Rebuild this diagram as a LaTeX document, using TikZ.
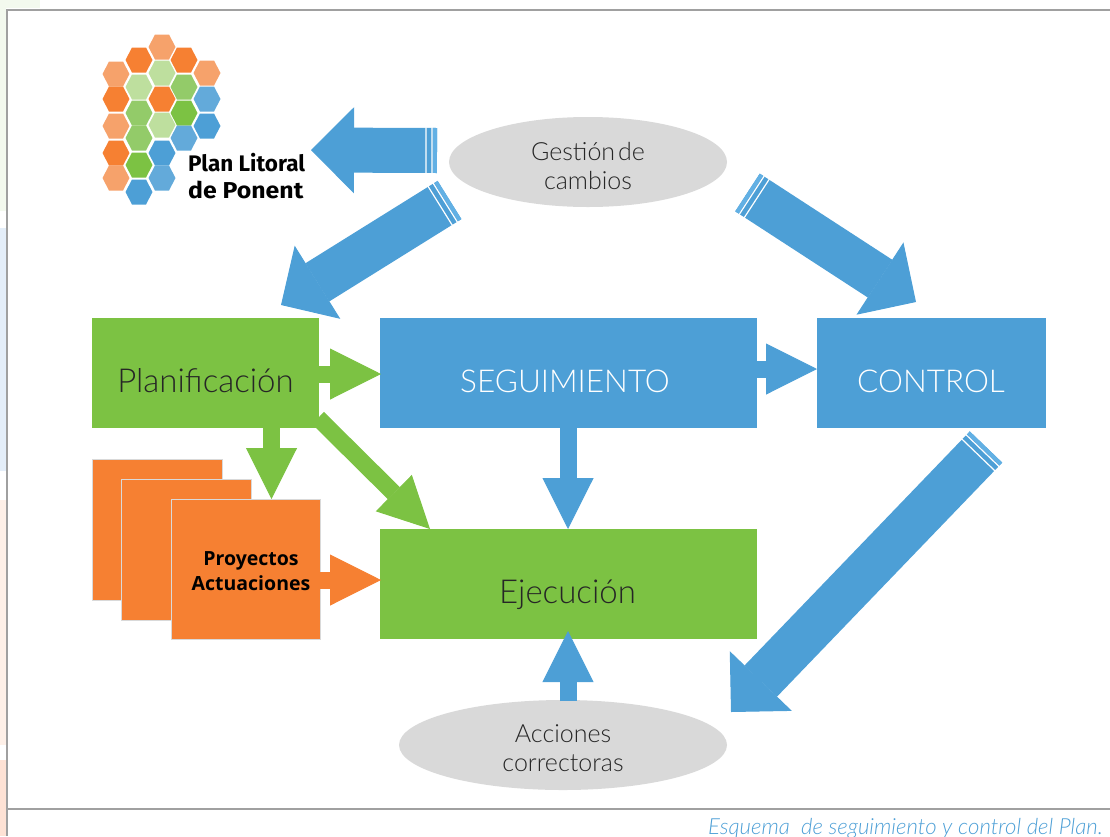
\documentclass[tikz,border=0pt]{standalone}
\usepackage{fontspec}
\setmainfont{Lato}[UprightFont=* Light,ItalicFont=* Light Italic,BoldFont=* Bold]
\newfontfamily\logofont{Fira Sans}
\newfontfamily\semifont{Open Sans}
\usetikzlibrary{arrows.meta,calc,shapes.geometric}
\definecolor{cblue}{HTML}{4D9FD6}
\definecolor{cbluel}{HTML}{62B0E4}
\definecolor{cgreen}{HTML}{7CC243}
\definecolor{corange}{HTML}{F68032}
\definecolor{cgray}{HTML}{D9D9D9}
\definecolor{cframe}{HTML}{A0A0A0}
\definecolor{hlo}{HTML}{F6A26B}
\definecolor{hlg}{HTML}{BEDF9E}
\definecolor{hmg}{HTML}{93CB69}
\definecolor{hlb}{HTML}{63AADA}
\definecolor{tintg}{HTML}{F3F9EE}
\definecolor{tintb}{HTML}{E4EEF9}
\definecolor{tinto}{HTML}{FEF0E8}
\definecolor{tintp}{HTML}{FEE2D5}
\tikzset{
  boxa/.style={rectangle,inner sep=0pt,minimum width=#1,minimum height=110pt},
  darktext/.style={text=black!85,font=\fontsize{33}{38}\selectfont,inner sep=0pt},
  lighttext/.style={text=white,font=\fontsize{31.5}{36}\selectfont,inner sep=0pt},
  ovalnode/.style={ellipse,fill=cgray,inner sep=0pt},
  ovaltext/.style={align=center,inner sep=0pt,font=\fontsize{25}{28.5}\selectfont,text=black!85},
  sheet/.style={rectangle,draw=black!15,line width=1pt,fill=corange,inner sep=0pt},
  sheettext/.style={align=center,inner sep=0pt,font=\semifont\bfseries\fontsize{19.5}{25}\selectfont,text=black},
  thick arrow/.style={draw=#1,line width=45pt,-{Triangle[length=43pt,width=86pt,line width=1pt,fill=#1]}},
  thin arrow/.style={draw=#1,line width=17pt,-{Triangle[length=51pt,width=51pt,line width=1pt,fill=#1]}},
  cutline/.style={draw=white,line width=1.2pt},
  framerule/.style={draw=cframe,line width=2pt}
}
\newcommand{\hx}[3]{\fill[#3] (#1-13.5,#2) -- (#1-7,#2-12.5) -- (#1+7,#2-12.5) -- (#1+13.5,#2) -- (#1+7,#2+12.5) -- (#1-7,#2+12.5) -- cycle;}
% white cuts and light band across the tail of a thick arrow
\newcommand{\tailcuts}[2]{%
  \fill[cbluel] ($(#1)!22.5pt!90:(#2)$) -- ($(#1)!22.5pt!-90:(#2)$) --
    ($($(#1)!4pt!(#2)$)!22.5pt!-90:(#2)$) -- ($($(#1)!4pt!(#2)$)!22.5pt!90:(#2)$) -- cycle;
  \draw[cutline] ($($(#1)!5pt!(#2)$)!23pt!90:(#2)$) -- ($($(#1)!5pt!(#2)$)!23pt!-90:(#2)$);
  \draw[cutline] ($($(#1)!11pt!(#2)$)!23pt!90:(#2)$) -- ($($(#1)!11pt!(#2)$)!23pt!-90:(#2)$);
}
\begin{document}
\begin{tikzpicture}[x=1pt,y=-1pt]
\useasboundingbox (0,0) rectangle (1110,836);
\clip (0,0) rectangle (1110,836);
% page tints on the left
\fill[tintg] (0,0) rectangle (6,211);
\fill[tintg] (0,0) rectangle (40,8);
\fill[tintb] (0,228) rectangle (6,471);
\fill[tinto] (0,500) rectangle (6,745);
\fill[tintp] (0,760) rectangle (6,836);
% frame
\draw[framerule] (7,836) -- (7,9.5) -- (1110,9.5);
\draw[framerule] (7,808.5) -- (1110,808.5);

% logo
\foreach \y/\c in {74/hlo,99/corange,126/hlo,153/corange,178/hlo}{\hx{116}{\y}{\c}}
\foreach \y/\c in {60/corange,87/hlg,113/hmg,138/hmg,165/cgreen,192/cblue}{\hx{139}{\y}{\c}}
\foreach \y/\c in {47/hlo,73/hlg,99/corange,125/hlg,153/cblue,178/hlb}{\hx{162}{\y}{\c}}
\foreach \y/\c in {60/corange,87/hmg,113/cgreen,138/hlb}{\hx{184}{\y}{\c}}
\foreach \y/\c in {73/hlo,99/hlb,126/cblue}{\hx{207}{\y}{\c}}
\node[inner sep=0pt,anchor=west,font=\logofont\bfseries\fontsize{22.5}{27}\selectfont] (logo1) at (188,163) {Plan Litoral};
\node[inner sep=0pt,anchor=west,font=\logofont\bfseries\fontsize{23}{27}\selectfont] (logo2) at (188,190) {\scalebox{1.08}[1]{de Ponent}};
\coordinate (logotip) at (311,150);

% nodes
\node[ovalnode,minimum width=278pt,minimum height=90pt,label={[ovaltext,yshift=-4pt]center:{Gestión\hspace{3pt}de\\cambios}}] (gestion) at (588,162) {};
\node[ovalnode,minimum width=328pt,minimum height=90pt,label={[ovaltext,yshift=-3pt]center:{Acciones\\correctoras}}] (acciones) at (563,745) {};
\node[boxa=227pt,fill=cgreen,label={[darktext,yshift=-8pt]center:Planificación}] (plan) at (205.5,373) {};
\node[boxa=377pt,fill=cblue,label={[lighttext,yshift=-8pt,xshift=-3.5pt]center:SEGUIMIENTO}] (seg) at (568.5,373) {};
\node[boxa=229pt,fill=cblue,label={[lighttext,yshift=-8pt]center:CONTROL}] (control) at (931,373) {};
\node[boxa=377pt,fill=cgreen,label={[darktext,yshift=-11pt,xshift=-1pt]center:Ejecución}] (ejec) at (568.5,584) {};
\node[sheet,minimum width=130pt,minimum height=141pt] (s1) at (157,529.5) {};
\node[sheet,minimum width=130pt,minimum height=141pt] (s2) at (186,549.5) {};
\node[sheet,minimum width=149pt,minimum height=140pt,label={[sheettext,xshift=5.5pt,yshift=-2pt]center:{Proyectos\\Actuaciones}}] (s3) at (245.5,569) {};

% connector ends
\coordinate (gA) at (437,150.5);
\coordinate (gB) at (449.5,200);
\coordinate (pB) at (281,305);
\coordinate (gC) at (747.5,192.5);
\coordinate (cC) at (916,302);
\coordinate (cD) at (986,447);
\coordinate (eD) at (731,712);
\coordinate (p1) at (319,374);
\coordinate (s1t) at (381,374);
\coordinate (p2) at (271.5,428);
\coordinate (s3t) at (271.5,499);
\coordinate (p3) at (318,418);
\coordinate (e3) at (430,529);
\coordinate (s2a) at (568,428);
\coordinate (e2) at (568,529);
\coordinate (s3a) at (320,580);
\coordinate (e4) at (381,580);
\coordinate (s4) at (757,369);
\coordinate (c4) at (817,369);
\coordinate (a5) at (568,701);
\coordinate (e5) at (568,631);

% thick connectors
\draw[thick arrow=cblue] (gA) -- (logotip);
\draw[thick arrow=cblue] (gB) -- (pB);
\draw[thick arrow=cblue] (gC) -- (cC);
\draw[thick arrow=cblue] (cD) -- (eD);
\tailcuts{gA}{logotip}
\tailcuts{gB}{pB}
\tailcuts{gC}{cC}
\tailcuts{cD}{eD}
% thin connectors
\draw[thin arrow=cgreen] (p1) -- (s1t);
\draw[thin arrow=cgreen] (p2) -- (s3t);
\draw[thin arrow=cgreen] (p3) -- (e3);
\draw[thin arrow=cblue] (s2a) -- (e2);
\draw[thin arrow=corange] (s3a) -- (e4);
\draw[thin arrow=cblue] (s4) -- (c4);
\draw[thin arrow=cblue] (a5) -- (e5);

% caption
\node[inner sep=0pt,anchor=base east,font=\itshape\fontsize{22.2}{26}\selectfont,text=cblue] (cap) at (1103,834) {Esquema\ \ de seguimiento y control del Plan.};
\end{tikzpicture}
\end{document}
